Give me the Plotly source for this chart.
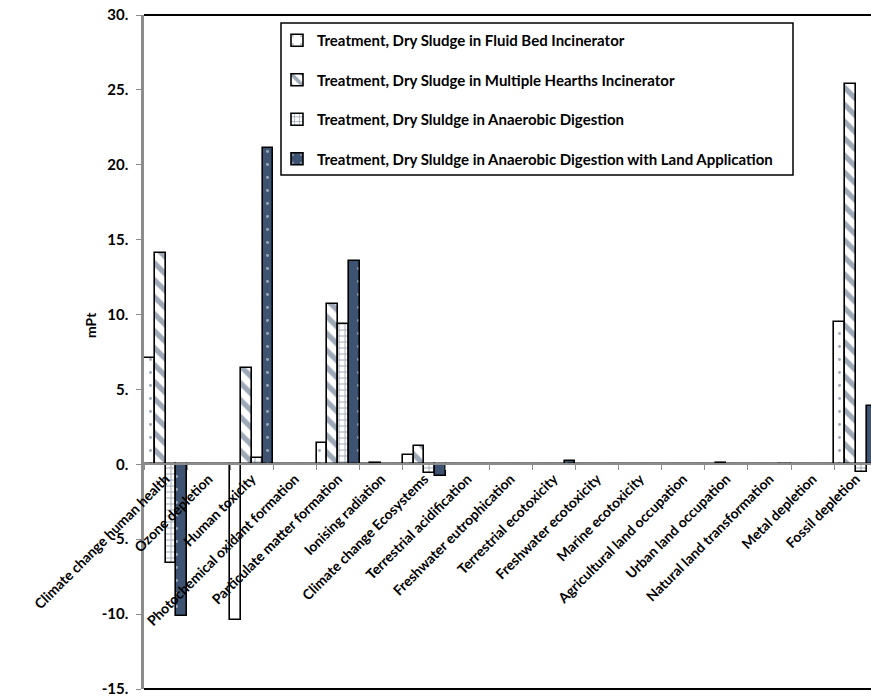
import plotly.graph_objects as go

categories = [
    "Climate change human health", "Ozone depletion", "Human toxicity",
    "Photochemical oxidant formation", "Particulate matter formation",
    "Ionising radiation", "Climate change Ecosystems", "Terrestrial acidification",
    "Freshwater eutrophication", "Terrestrial ecotoxicity", "Freshwater ecotoxicity",
    "Marine ecotoxicity", "Agricultural land occupation", "Urban land occupation",
    "Natural land transformation", "Metal depletion", "Fossil depletion",
]

series_names = [
    "Treatment, Dry Sludge in Fluid Bed Incinerator",
    "Treatment, Dry Sludge in Multiple Hearths Incinerator",
    "Treatment, Dry Sluldge in Anaerobic Digestion",
    "Treatment, Dry Sluldge in Anaerobic Digestion with Land Application",
]

fluid_bed = [7.1, 0.02, -10.4, 0.02, 1.4, 0.02, 0.6, 0.01, 0.01, 0.01, 0.01, 0.01, 0.02, 0.02, 0.01, 0.01, 9.5]
multiple_hearths = [14.1, 0.03, 6.4, 0.05, 10.7, 0.08, 1.2, 0.05, 0.03, 0.03, 0.03, 0.02, 0.05, 0.06, 0.02, 0.03, 25.4]
anaerobic = [-6.6, 0.01, 0.4, 0.01, 9.4, 0.01, -0.6, 0.01, 0.01, 0.02, 0.01, 0.01, 0.01, 0.01, 0.01, 0.01, -0.5]
anaerobic_land = [-10.1, 0.02, 21.1, 0.03, 13.6, 0.02, -0.8, 0.03, 0.02, 0.2, 0.02, 0.02, 0.03, 0.02, -0.05, 0.02, 3.9]

y_ticks = [-15, -10, -5, 0, 5, 10, 15, 20, 25, 30]
y_tick_labels = [f"{v}." for v in y_ticks]

NAVY = "#3E5371"
FONT = "Lato"

patterns = [
    dict(shape=".", fgcolor=NAVY, bgcolor="white", size=13, solidity=0.04),
    dict(shape="\\", fgcolor=NAVY, bgcolor="white", size=12, solidity=0.45),
    dict(shape="+", fgcolor=NAVY, bgcolor="white", size=6, solidity=0.3),
    dict(shape=".", fgcolor="white", bgcolor=NAVY, size=13, solidity=0.04),
]
data = [fluid_bed, multiple_hearths, anaerobic, anaerobic_land]

fig = go.Figure()
for i, (name, vals, pat) in enumerate(zip(series_names, data, patterns)):
    fig.add_trace(go.Bar(
        x=categories, y=vals, name=name, legendgroup=f"g{i}",
        marker=dict(color=pat["bgcolor"], pattern=pat,
                    line=dict(color="black", width=1.6)),
    ))

W, H = 871, 698
L, R, T, B = 144, 0, 15, 9
pw = W - L - R
ph = H - T - B
cat_w = 43.14
x_max = pw / cat_w - 0.5


def px_x(x):
    return (x - L) / pw


def px_y(y):
    return (H - B - y) / ph


fig.update_layout(
    width=W, height=H,
    margin=dict(l=L, r=R, t=T, b=B),
    paper_bgcolor="white", plot_bgcolor="white",
    barmode="group", bargap=0, bargroupgap=0,
    font=dict(family=FONT, size=14, color="black", weight="bold"),
    showlegend=True,
    legend=dict(
        x=px_x(277), y=px_y(24), xanchor="left", yanchor="top",
        bgcolor="rgba(0,0,0,0)", borderwidth=0,
        font=dict(family=FONT, size=15, color="black", weight="bold"),
        tracegroupgap=17, traceorder="grouped",
    ),
    xaxis=dict(
        type="category", range=[-0.5, x_max], fixedrange=True,
        anchor="free", position=15 / 45,
        showline=True, linecolor="#8c8c8c", linewidth=2,
        ticks="outside", ticklen=5, tickcolor="#8c8c8c", tickwidth=1,
        tickson="boundaries", tickangle=-45,
        tickfont=dict(family=FONT, size=14, color="black", weight="bold"),
        showgrid=False, zeroline=False,
    ),
    yaxis=dict(
        range=[-15, 30], tickvals=y_ticks, ticktext=y_tick_labels,
        fixedrange=True,
        showline=True, linecolor="#8c8c8c", linewidth=2.5,
        ticks="outside", ticklen=5, tickcolor="#8c8c8c",
        tickfont=dict(family=FONT, size=15, color="black", weight="bold"),
        ticklabelstandoff=5, ticklabeloverflow="allow",
        showgrid=False, zeroline=False,
    ),
    shapes=[
        dict(type="line", xref="paper", yref="paper", x0=0, x1=1, y0=1, y1=1,
             line=dict(color="black", width=2)),
        dict(type="line", xref="paper", yref="paper", x0=0, x1=1, y0=0, y1=0,
             line=dict(color="black", width=2)),
        dict(type="rect", xref="paper", yref="paper",
             x0=px_x(281), x1=px_x(793), y0=px_y(175), y1=px_y(23),
             fillcolor="white", line=dict(color="black", width=1.5), layer="above"),
    ],
    annotations=[
        dict(text="mPt", xref="paper", yref="paper", x=px_x(90),
             y=px_y(325), xanchor="center", yanchor="middle",
             showarrow=False, textangle=-90,
             font=dict(family=FONT, size=14, color="black", weight="bold")),
    ],
)

fig.write_html("out.html", config={"displayModeBar": False},
               post_script="document.body.style.margin='0';")
